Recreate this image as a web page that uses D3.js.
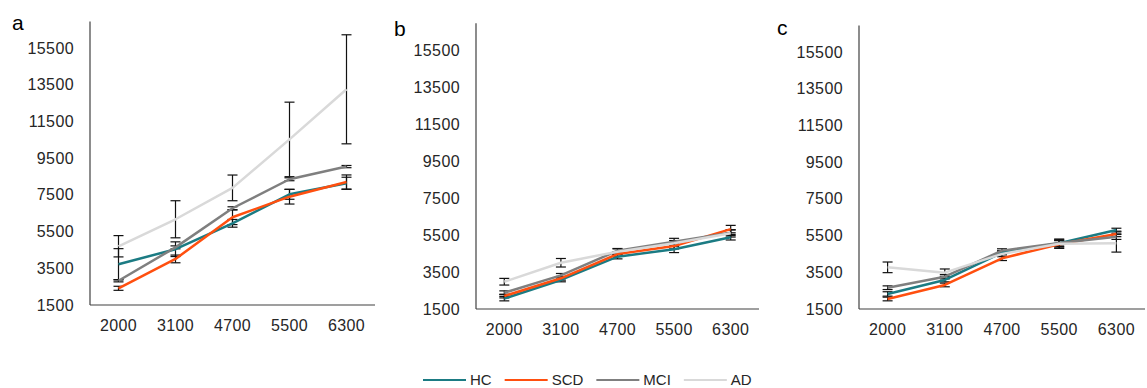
<!DOCTYPE html>
<html>
<head>
<meta charset="utf-8">
<script src="https://cdn.jsdelivr.net/npm/d3@7"></script>
<style>
body { margin: 0; background: #fff; }
svg text { font-family: "Liberation Sans", Arial, sans-serif; fill: #262626; }
</style>
</head>
<body>
<svg></svg>
<script>
let categories = ["2000", "3100", "4700", "5500", "6300"];
let seriesNames = ["HC", "SCD", "MCI", "AD"];
let colors = ["#1b7b83", "#ff4f0f", "#7f7f7f", "#d9d9d9"];
let yTicks = [1500, 3500, 5500, 7500, 9500, 11500, 13500, 15500];
let panelLabels = ["a", "b", "c"];

// panel a
let hcA = [3720, 4540, 5950, 7530, 8130];
let hcErrA = [850, 400, 210, 270, 330];
let scdA = [2410, 4010, 6280, 7400, 8200];
let scdErrA = [110, 210, 400, 400, 385];
let mciA = [2820, 4640, 6770, 8350, 9040];
let mciErrA = [60, 80, 80, 80, 60];
let adA = [4700, 6170, 7880, 10520, 13250];
let adErrA = [580, 1010, 700, 2030, 2970];

// panel b
let hcB = [2060, 3070, 4330, 4730, 5380];
let hcErrB = [120, 100, 120, 180, 150];
let scdB = [2200, 3160, 4470, 4900, 5820];
let scdErrB = [100, 100, 120, 150, 200];
let mciB = [2380, 3320, 4650, 5140, 5620];
let mciErrB = [100, 100, 120, 180, 150];
let adB = [2975, 4000, 4600, 5050, 5590];
let adErrB = [180, 230, 150, 150, 200];

// panel c
let hcC = [2320, 3080, 4570, 5080, 5800];
let hcErrC = [120, 100, 100, 150, 100];
let scdC = [2045, 2810, 4260, 5030, 5590];
let scdErrC = [100, 100, 120, 200, 150];
let mciC = [2660, 3260, 4680, 5100, 5440];
let mciErrC = [100, 120, 100, 200, 150];
let adC = [3770, 3480, 4500, 5050, 5080];
let adErrC = [290, 200, 150, 250, 480];

let panelData = [
    [[hcA, hcErrA], [scdA, scdErrA], [mciA, mciErrA], [adA, adErrA]],
    [[hcB, hcErrB], [scdB, scdErrB], [mciB, mciErrB], [adB, adErrB]],
    [[hcC, hcErrC], [scdC, scdErrC], [mciC, mciErrC], [adC, adErrC]]
];

let width = 1147;
let height = 388;
let axisMax = 16950;

// plot frames: left/right of x band, y of 1500 and 15500, label position
let frames = [
    {x0: 90, x1: 375, yLow: 305, yHigh: 48, lx: 12, ly: 30},
    {x0: 476, x1: 759, yLow: 309, yHigh: 50, lx: 394, ly: 36},
    {x0: 859, x1: 1145, yLow: 309, yHigh: 52, lx: 777, ly: 35}
];

let svg = d3.select("svg")
    .attr("width", width)
    .attr("height", height);

let drawPanel = (frame, data, label) => {
    let xScale = d3.scaleBand()
        .domain(categories)
        .range([frame.x0, frame.x1]);

    let yScale = d3.scaleLinear()
        .domain([1500, 15500])
        .range([frame.yLow, frame.yHigh]);

    let g = svg.append("g");

    let yAxis = d3.axisLeft(yScale)
        .tickValues(yTicks)
        .tickFormat(d3.format("d"))
        .tickSize(0)
        .tickPadding(16);

    g.append("g")
        .attr("transform", "translate(" + frame.x0 + ", 0)")
        .call(yAxis)
        .call(ax => ax.select(".domain").remove())
        .selectAll("text")
        .style("font-size", "16px")
        .style("letter-spacing", "0.4px");

    let xAxis = d3.axisBottom(xScale)
        .tickSize(0)
        .tickPadding(15);

    g.append("g")
        .attr("transform", "translate(0, " + frame.yLow + ")")
        .call(xAxis)
        .call(ax => ax.select(".domain").remove())
        .selectAll("text")
        .style("font-size", "16px")
        .style("letter-spacing", "0.4px");

    // axis lines
    g.append("line")
        .attr("x1", frame.x0).attr("x2", frame.x0)
        .attr("y1", yScale(1500)).attr("y2", yScale(axisMax))
        .attr("stroke", "#404040").attr("stroke-width", 1.2);
    g.append("line")
        .attr("x1", frame.x0).attr("x2", frame.x1)
        .attr("y1", yScale(1500)).attr("y2", yScale(1500))
        .attr("stroke", "#404040").attr("stroke-width", 1.2);

    let cx = (i) => xScale(categories[i]) + xScale.bandwidth() / 2;

    // error bars
    data.forEach(([vals, errs]) => {
        let eg = g.append("g").attr("stroke", "#111").attr("stroke-width", 1.2);
        vals.forEach((v, i) => {
            let top = yScale(v + errs[i]);
            let bot = yScale(v - errs[i]);
            eg.append("line").attr("x1", cx(i)).attr("x2", cx(i)).attr("y1", top).attr("y2", bot);
            eg.append("line").attr("x1", cx(i) - 5).attr("x2", cx(i) + 5).attr("y1", top).attr("y2", top);
            eg.append("line").attr("x1", cx(i) - 5).attr("x2", cx(i) + 5).attr("y1", bot).attr("y2", bot);
        });
    });

    let line = d3.line()
        .x((d, i) => cx(i))
        .y((d) => yScale(d));

    data.forEach(([vals], s) => {
        g.append("path")
            .datum(vals)
            .attr("d", line)
            .attr("fill", "none")
            .attr("stroke", colors[s])
            .attr("stroke-width", 2.5)
            .attr("stroke-linejoin", "round");
    });

    g.append("text")
        .attr("x", frame.lx)
        .attr("y", frame.ly)
        .style("font-size", "21px")
        .style("fill", "#000")
        .text(label);
}

frames.forEach((f, i) => drawPanel(f, panelData[i], panelLabels[i]));

let drawLegend = () => {
    let lg = svg.append("g");
    let x = 423;
    let y = 380;
    seriesNames.forEach((name, i) => {
        lg.append("line")
            .attr("x1", x).attr("x2", x + 43)
            .attr("y1", y).attr("y2", y)
            .attr("stroke", colors[i])
            .attr("stroke-width", 2);
        let t = lg.append("text")
            .attr("x", x + 47)
            .attr("y", y)
            .attr("dy", "0.36em")
            .style("font-size", "15px")
            .text(name);
        x = x + 47 + t.node().getComputedTextLength() + 13;
    });
}

drawLegend();
</script>
</body>
</html>
